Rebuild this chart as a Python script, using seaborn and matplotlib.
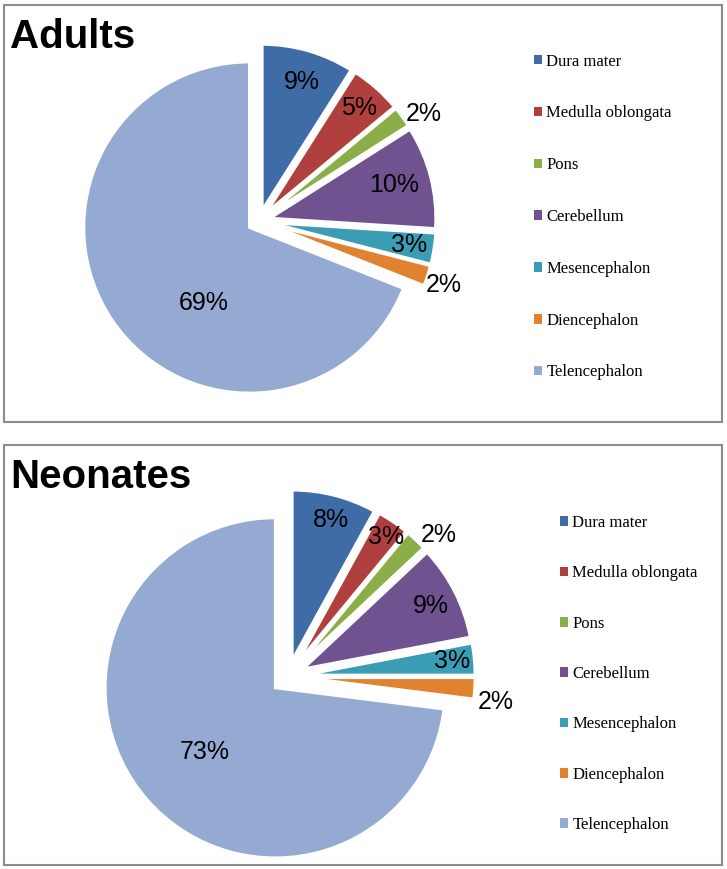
import numpy as np
import matplotlib
matplotlib.use("Agg")
import matplotlib.pyplot as plt
import seaborn as sns
from matplotlib.patches import Rectangle, Patch

# dados
regioes = ["Dura mater", "Medulla oblongata", "Pons", "Cerebellum",
           "Mesencephalon", "Diencephalon", "Telencephalon"]
adultos = [9, 5, 2, 10, 3, 2, 69]
neonatos = [8, 3, 2, 9, 3, 2, 73]
cores = ["#3F6CA7", "#B0403E", "#8BAF48", "#6F528F", "#3A9DB5", "#E0822F", "#94AAD2"]

W, H = 727, 869

sns.set_theme(style="white")
plt.rcParams["font.family"] = ["Liberation Sans", "DejaVu Sans"]
plt.rcParams["text.color"] = "black"

fig = plt.figure(figsize=(W / 100, H / 100), dpi=100)
paleta = sns.color_palette(cores)


def painel(valores, titulo, caixa, centro, raio, explode, rot_r, rot_da, leg_xy, leg_esp):
    # caixa em pixels (origem no topo)
    x0, y0, x1, y1 = caixa
    fig.patches.append(Rectangle((x0 / W, 1 - y1 / H), (x1 - x0) / W, (y1 - y0) / H,
                                 transform=fig.transFigure, fill=False,
                                 edgecolor="#8c8c8c", lw=1.5))
    fig.text((x0 + 6) / W, 1 - (y0 + 43) / H, titulo, fontsize=29,
             fontweight="bold", ha="left", va="baseline", color="black")

    lim = 1.35
    cx, cy = centro
    lado = 2 * lim * raio
    ax = fig.add_axes([(cx - lado / 2) / W, 1 - (cy + lado / 2) / H, lado / W, lado / H])
    wedges, _ = ax.pie(valores, colors=paleta, startangle=90, counterclock=False,
                       explode=[explode] * len(valores),
                       wedgeprops=dict(edgecolor="white", linewidth=2))
    ax.set_xlim(-lim, lim)
    ax.set_ylim(-lim, lim)
    ax.set_aspect("equal")
    ax.axis("off")

    # rótulos de porcentagem
    for w, v, r, da in zip(wedges, valores, rot_r, rot_da):
        ang = np.deg2rad((w.theta1 + w.theta2) / 2 + da)
        ax.text(r * np.cos(ang), r * np.sin(ang), f"{v}%", ha="center",
                va="center", fontsize=18, color="black")

    alcas = [Patch(facecolor=c, edgecolor="none") for c in paleta]
    leg = fig.legend(alcas, regioes, loc="center left",
                     bbox_to_anchor=(leg_xy[0] / W, 1 - leg_xy[1] / H),
                     frameon=False, borderpad=0, borderaxespad=0,
                     prop=dict(family=["Liberation Serif", "DejaVu Serif"], size=12),
                     handlelength=0.5, handleheight=0.5, handletextpad=0.25,
                     labelspacing=leg_esp)
    for t in leg.get_texts():
        t.set_color("black")


painel(adultos, "Adults", (4, 5, 722, 422), (259, 221), 165.5, 0.07,
       [0.88, 0.91, 1.19, 0.845, 0.92, 1.18, 0.6],
       [-1, 0, -3, 0.6, 0, -1, 21.8],
       (534, 217), 2.15)

painel(neonatos, "Neonates", (4, 445, 722, 865), (288, 676.6), 170, 0.1,
       [0.955, 1.006, 1.22, 0.94, 0.97, 1.23, 0.66],
       [-0.8, -0.9, -3.6, -0.7, 0, -3.3, 0.8],
       (560, 674), 2.06)

fig.savefig("out.png", dpi=100, facecolor="white")
